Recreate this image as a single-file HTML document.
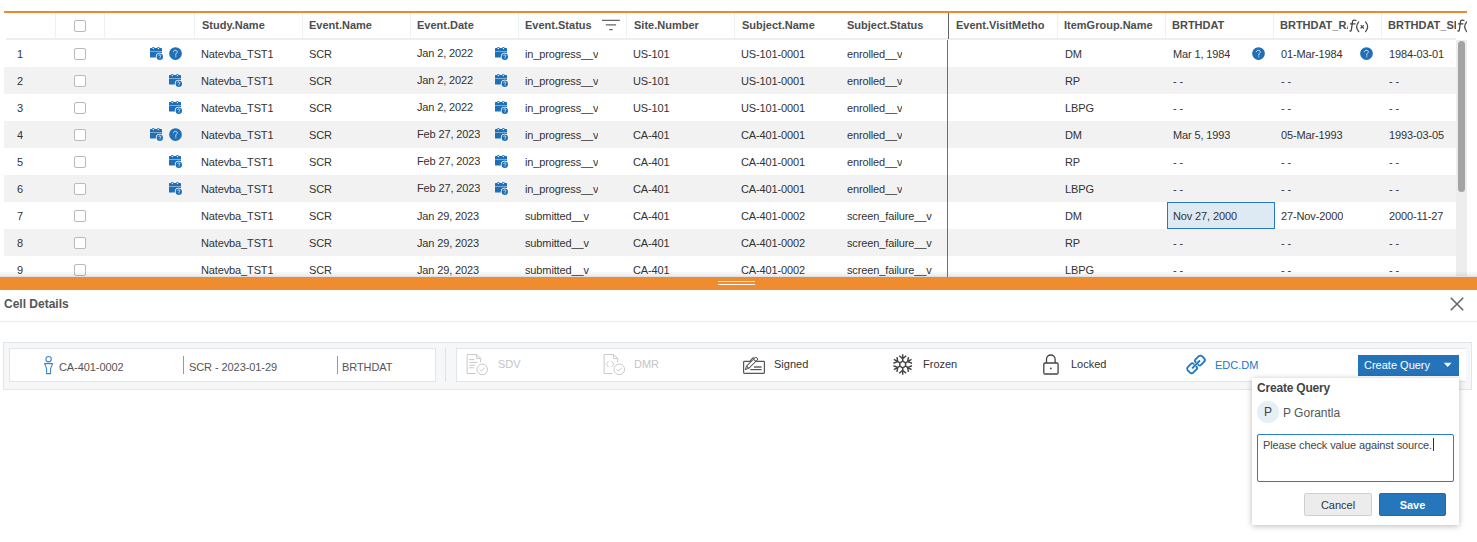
<!DOCTYPE html><html><head><meta charset="utf-8"><style>
*{box-sizing:border-box;margin:0;padding:0}
html,body{width:1477px;height:542px;overflow:hidden;background:#fff;font-family:"Liberation Sans",sans-serif;color:#333;font-size:11px}
.abs{position:absolute}
#grid{position:absolute;left:0;top:0;width:1477px;height:277px;overflow:hidden}
.ol{position:absolute;left:4px;top:11px;width:1463px;height:2px;background:#ef8a2c}
.hdr{position:absolute;top:13px;height:26px;left:0;width:1467px;overflow:hidden}
.hc{position:absolute;top:0;height:26px;line-height:24px;font-weight:bold;color:#4d4d4d;padding-left:7px;white-space:nowrap;overflow:hidden;border-left:1px solid #edf1f4}
.hb{position:absolute;top:38px;height:2px;background:#ebeff2}
.row{position:absolute;left:4px;width:1452px;height:27px}
.row.g{background:#f2f2f2}
.c{position:absolute;top:1px;height:27px;line-height:27px;white-space:nowrap;overflow:hidden;color:#333;letter-spacing:-0.13px}
.cb{position:absolute;width:12px;height:12px;border:1px solid #b9b9b9;border-radius:2px;background:#fff}
.cal,.q{position:absolute}
.fx{position:absolute;font-family:"Liberation Serif",serif;font-weight:normal;color:#444}
.fx i{font-size:15px}
.fx span{font-size:11px}
</style></head><body>
<div id="grid">
<div class="ol"></div>
<div class="hdr">
<div class="hc" style="left:4px;width:51px;border-left:none;"></div>
<div class="hc" style="left:55px;width:49px;"><div class="cb" style="left:18px;top:7px"></div></div>
<div class="hc" style="left:104px;width:90px;"></div>
<div class="hc" style="left:194px;width:108px;">Study.Name</div>
<div class="hc" style="left:302px;width:108px;padding-left:6px;">Event.Name</div>
<div class="hc" style="left:410px;width:108px;padding-left:6px;">Event.Date</div>
<div class="hc" style="left:518px;width:108px;padding-left:6px">Event.Status<svg class="abs" style="left:83px;top:6px" width="20" height="12" viewBox="0 0 20 12"><path d="M0 1.3H17.8M3.8 5.9H14.1M7.2 10.7H10.7" stroke="#666" stroke-width="1.3"/></svg></div>
<div class="hc" style="left:626px;width:108px;">Site.Number</div>
<div class="hc" style="left:734px;width:106px;">Subject.Name</div>
<div class="hc" style="left:840px;width:108px;border-left:none;">Subject.Status</div>
<div class="hc" style="left:948px;width:109px;border-left:1px solid #707070;padding-left:6px;padding-left:7px;">Event.VisitMetho</div>
<div class="hc" style="left:1057px;width:108px;padding-left:6px;">ItemGroup.Name</div>
<div class="hc" style="left:1165px;width:108px;padding-left:6px;">BRTHDAT</div>
<div class="hc" style="left:1273px;width:108px;padding-left:6px"><div style="width:68px;overflow:hidden">BRTHDAT_RAW</div><div class="fx" style="left:75px;top:0;line-height:0"><svg width="22" height="22" viewBox="0 0 22 22"><g fill="none" stroke="#444" stroke-width="1.25" stroke-linecap="round"><path d="M7 7.5C6 6.8 3.9 6.8 3.5 8.4L2.4 16.8C2.2 17.9 1.6 18.2 0.8 18"/><path d="M1.4 10.8H6"/><path d="M9.7 8.9Q5.7 13.8 9.7 18.7"/><path d="M16.6 8.9Q20.6 13.8 16.6 18.7"/><path d="M12 12.6L14.4 15M14.4 12.6L12 15" stroke-width="1.2"/></g></svg></div></div>
<div class="hc" style="left:1381px;width:108px;padding-left:6px"><div style="width:68px;overflow:hidden">BRTHDAT_SI</div><div class="fx" style="left:75px;top:0;line-height:0"><svg width="22" height="22" viewBox="0 0 22 22"><g fill="none" stroke="#444" stroke-width="1.25" stroke-linecap="round"><path d="M7 7.5C6 6.8 3.9 6.8 3.5 8.4L2.4 16.8C2.2 17.9 1.6 18.2 0.8 18"/><path d="M1.4 10.8H6"/><path d="M9.7 8.9Q5.7 13.8 9.7 18.7"/><path d="M16.6 8.9Q20.6 13.8 16.6 18.7"/><path d="M12 12.6L14.4 15M14.4 12.6L12 15" stroke-width="1.2"/></g></svg></div></div>
</div>
<div class="hb" style="left:6px;width:1450px"></div>
<div class="abs" style="left:948px;top:13px;width:1px;height:26px;background:#666"></div>
<div class="row" style="top:40px">
<div class="c" style="left:13px;">1</div>
<div class="cb" style="left:70px;top:8px"></div>
<div class="abs" style="left:146px;top:7px"><svg class="cal" width="14" height="14" viewBox="0 0 14 14"><rect x="0" y="1" width="12" height="9.6" rx="0.6" fill="#1f6fb6"/><rect x="0" y="4.3" width="12" height="0.7" fill="#a9c8e6"/><circle cx="3.3" cy="1.1" r="1.2" fill="#1f6fb6"/><circle cx="8.4" cy="1.1" r="1.2" fill="#1f6fb6"/><circle cx="3.3" cy="1.5" r="0.65" fill="#fff"/><circle cx="8.4" cy="1.5" r="0.65" fill="#fff"/><circle cx="9.8" cy="9.7" r="4" fill="#fff"/><circle cx="9.8" cy="9.7" r="3.2" fill="#1f6fb6"/><path d="M8.7 8.9C8.7 8.2 9.2 7.8 9.8 7.8C10.4 7.8 10.9 8.2 10.9 8.8C10.9 9.5 10 9.6 10 10.4V10.9M10 11.5V12" stroke="#fff" stroke-width="0.7" fill="none"/></svg></div>
<div class="abs" style="left:165px;top:7px"><svg class="q" width="13" height="13" viewBox="0 0 13 13"><circle cx="6.5" cy="6.6" r="6.35" fill="#1f6fb6"/><path d="M4.4 5.2C4.4 3.9 5.3 3.3 6.4 3.3C7.5 3.3 8.3 4 8.3 4.9C8.3 6 6.8 6.3 6.8 7.5V8.7M6.8 9.4V10.4" stroke="#fff" stroke-width="0.8" fill="none"/></svg></div>
<div class="c" style="left:197px;">Natevba_TST1</div>
<div class="c" style="left:305px;">SCR</div>
<div class="c" style="left:413px;top:0px">Jan 2, 2022</div>
<div class="abs" style="left:491px;top:7px"><svg class="cal" width="14" height="14" viewBox="0 0 14 14"><rect x="0" y="1" width="12" height="9.6" rx="0.6" fill="#1f6fb6"/><rect x="0" y="4.3" width="12" height="0.7" fill="#a9c8e6"/><circle cx="3.3" cy="1.1" r="1.2" fill="#1f6fb6"/><circle cx="8.4" cy="1.1" r="1.2" fill="#1f6fb6"/><circle cx="3.3" cy="1.5" r="0.65" fill="#fff"/><circle cx="8.4" cy="1.5" r="0.65" fill="#fff"/><circle cx="9.8" cy="9.7" r="4" fill="#fff"/><circle cx="9.8" cy="9.7" r="3.2" fill="#1f6fb6"/><path d="M8.7 8.9C8.7 8.2 9.2 7.8 9.8 7.8C10.4 7.8 10.9 8.2 10.9 8.8C10.9 9.5 10 9.6 10 10.4V10.9M10 11.5V12" stroke="#fff" stroke-width="0.7" fill="none"/></svg></div>
<div class="c" style="left:521px;">in_progress__v</div>
<div class="c" style="left:629px;">US-101</div>
<div class="c" style="left:737px;">US-101-0001</div>
<div class="c" style="left:843px;">enrolled__v</div>
<div class="c" style="left:1061px;">DM</div>
<div class="c" style="left:1169px;">Mar 1, 1984</div>
<div class="abs" style="left:1248px;top:7px"><svg class="q" width="13" height="13" viewBox="0 0 13 13"><circle cx="6.5" cy="6.6" r="6.35" fill="#1f6fb6"/><path d="M4.4 5.2C4.4 3.9 5.3 3.3 6.4 3.3C7.5 3.3 8.3 4 8.3 4.9C8.3 6 6.8 6.3 6.8 7.5V8.7M6.8 9.4V10.4" stroke="#fff" stroke-width="0.8" fill="none"/></svg></div>
<div class="c" style="left:1277px;">01-Mar-1984</div>
<div class="abs" style="left:1356px;top:7px"><svg class="q" width="13" height="13" viewBox="0 0 13 13"><circle cx="6.5" cy="6.6" r="6.35" fill="#1f6fb6"/><path d="M4.4 5.2C4.4 3.9 5.3 3.3 6.4 3.3C7.5 3.3 8.3 4 8.3 4.9C8.3 6 6.8 6.3 6.8 7.5V8.7M6.8 9.4V10.4" stroke="#fff" stroke-width="0.8" fill="none"/></svg></div>
<div class="c" style="left:1385px;">1984-03-01</div>
</div>
<div class="row g" style="top:67px">
<div class="c" style="left:13px;">2</div>
<div class="cb" style="left:70px;top:8px"></div>
<div class="abs" style="left:165px;top:7px"><svg class="cal" width="14" height="14" viewBox="0 0 14 14"><rect x="0" y="1" width="12" height="9.6" rx="0.6" fill="#1f6fb6"/><rect x="0" y="4.3" width="12" height="0.7" fill="#a9c8e6"/><circle cx="3.3" cy="1.1" r="1.2" fill="#1f6fb6"/><circle cx="8.4" cy="1.1" r="1.2" fill="#1f6fb6"/><circle cx="3.3" cy="1.5" r="0.65" fill="#fff"/><circle cx="8.4" cy="1.5" r="0.65" fill="#fff"/><circle cx="9.8" cy="9.7" r="4" fill="#fff"/><circle cx="9.8" cy="9.7" r="3.2" fill="#1f6fb6"/><path d="M8.7 8.9C8.7 8.2 9.2 7.8 9.8 7.8C10.4 7.8 10.9 8.2 10.9 8.8C10.9 9.5 10 9.6 10 10.4V10.9M10 11.5V12" stroke="#fff" stroke-width="0.7" fill="none"/></svg></div>
<div class="c" style="left:197px;">Natevba_TST1</div>
<div class="c" style="left:305px;">SCR</div>
<div class="c" style="left:413px;top:0px">Jan 2, 2022</div>
<div class="abs" style="left:491px;top:7px"><svg class="cal" width="14" height="14" viewBox="0 0 14 14"><rect x="0" y="1" width="12" height="9.6" rx="0.6" fill="#1f6fb6"/><rect x="0" y="4.3" width="12" height="0.7" fill="#a9c8e6"/><circle cx="3.3" cy="1.1" r="1.2" fill="#1f6fb6"/><circle cx="8.4" cy="1.1" r="1.2" fill="#1f6fb6"/><circle cx="3.3" cy="1.5" r="0.65" fill="#fff"/><circle cx="8.4" cy="1.5" r="0.65" fill="#fff"/><circle cx="9.8" cy="9.7" r="4" fill="#fff"/><circle cx="9.8" cy="9.7" r="3.2" fill="#1f6fb6"/><path d="M8.7 8.9C8.7 8.2 9.2 7.8 9.8 7.8C10.4 7.8 10.9 8.2 10.9 8.8C10.9 9.5 10 9.6 10 10.4V10.9M10 11.5V12" stroke="#fff" stroke-width="0.7" fill="none"/></svg></div>
<div class="c" style="left:521px;">in_progress__v</div>
<div class="c" style="left:629px;">US-101</div>
<div class="c" style="left:737px;">US-101-0001</div>
<div class="c" style="left:843px;">enrolled__v</div>
<div class="c" style="left:1061px;">RP</div>
<div class="c" style="left:1169px;">- -</div>
<div class="c" style="left:1277px;">- -</div>
<div class="c" style="left:1385px;">- -</div>
</div>
<div class="row" style="top:94px">
<div class="c" style="left:13px;">3</div>
<div class="cb" style="left:70px;top:8px"></div>
<div class="abs" style="left:165px;top:7px"><svg class="cal" width="14" height="14" viewBox="0 0 14 14"><rect x="0" y="1" width="12" height="9.6" rx="0.6" fill="#1f6fb6"/><rect x="0" y="4.3" width="12" height="0.7" fill="#a9c8e6"/><circle cx="3.3" cy="1.1" r="1.2" fill="#1f6fb6"/><circle cx="8.4" cy="1.1" r="1.2" fill="#1f6fb6"/><circle cx="3.3" cy="1.5" r="0.65" fill="#fff"/><circle cx="8.4" cy="1.5" r="0.65" fill="#fff"/><circle cx="9.8" cy="9.7" r="4" fill="#fff"/><circle cx="9.8" cy="9.7" r="3.2" fill="#1f6fb6"/><path d="M8.7 8.9C8.7 8.2 9.2 7.8 9.8 7.8C10.4 7.8 10.9 8.2 10.9 8.8C10.9 9.5 10 9.6 10 10.4V10.9M10 11.5V12" stroke="#fff" stroke-width="0.7" fill="none"/></svg></div>
<div class="c" style="left:197px;">Natevba_TST1</div>
<div class="c" style="left:305px;">SCR</div>
<div class="c" style="left:413px;top:0px">Jan 2, 2022</div>
<div class="abs" style="left:491px;top:7px"><svg class="cal" width="14" height="14" viewBox="0 0 14 14"><rect x="0" y="1" width="12" height="9.6" rx="0.6" fill="#1f6fb6"/><rect x="0" y="4.3" width="12" height="0.7" fill="#a9c8e6"/><circle cx="3.3" cy="1.1" r="1.2" fill="#1f6fb6"/><circle cx="8.4" cy="1.1" r="1.2" fill="#1f6fb6"/><circle cx="3.3" cy="1.5" r="0.65" fill="#fff"/><circle cx="8.4" cy="1.5" r="0.65" fill="#fff"/><circle cx="9.8" cy="9.7" r="4" fill="#fff"/><circle cx="9.8" cy="9.7" r="3.2" fill="#1f6fb6"/><path d="M8.7 8.9C8.7 8.2 9.2 7.8 9.8 7.8C10.4 7.8 10.9 8.2 10.9 8.8C10.9 9.5 10 9.6 10 10.4V10.9M10 11.5V12" stroke="#fff" stroke-width="0.7" fill="none"/></svg></div>
<div class="c" style="left:521px;">in_progress__v</div>
<div class="c" style="left:629px;">US-101</div>
<div class="c" style="left:737px;">US-101-0001</div>
<div class="c" style="left:843px;">enrolled__v</div>
<div class="c" style="left:1061px;">LBPG</div>
<div class="c" style="left:1169px;">- -</div>
<div class="c" style="left:1277px;">- -</div>
<div class="c" style="left:1385px;">- -</div>
</div>
<div class="row g" style="top:121px">
<div class="c" style="left:13px;">4</div>
<div class="cb" style="left:70px;top:8px"></div>
<div class="abs" style="left:146px;top:7px"><svg class="cal" width="14" height="14" viewBox="0 0 14 14"><rect x="0" y="1" width="12" height="9.6" rx="0.6" fill="#1f6fb6"/><rect x="0" y="4.3" width="12" height="0.7" fill="#a9c8e6"/><circle cx="3.3" cy="1.1" r="1.2" fill="#1f6fb6"/><circle cx="8.4" cy="1.1" r="1.2" fill="#1f6fb6"/><circle cx="3.3" cy="1.5" r="0.65" fill="#fff"/><circle cx="8.4" cy="1.5" r="0.65" fill="#fff"/><circle cx="9.8" cy="9.7" r="4" fill="#fff"/><circle cx="9.8" cy="9.7" r="3.2" fill="#1f6fb6"/><path d="M8.7 8.9C8.7 8.2 9.2 7.8 9.8 7.8C10.4 7.8 10.9 8.2 10.9 8.8C10.9 9.5 10 9.6 10 10.4V10.9M10 11.5V12" stroke="#fff" stroke-width="0.7" fill="none"/></svg></div>
<div class="abs" style="left:165px;top:7px"><svg class="q" width="13" height="13" viewBox="0 0 13 13"><circle cx="6.5" cy="6.6" r="6.35" fill="#1f6fb6"/><path d="M4.4 5.2C4.4 3.9 5.3 3.3 6.4 3.3C7.5 3.3 8.3 4 8.3 4.9C8.3 6 6.8 6.3 6.8 7.5V8.7M6.8 9.4V10.4" stroke="#fff" stroke-width="0.8" fill="none"/></svg></div>
<div class="c" style="left:197px;">Natevba_TST1</div>
<div class="c" style="left:305px;">SCR</div>
<div class="c" style="left:413px;top:0px">Feb 27, 2023</div>
<div class="abs" style="left:491px;top:7px"><svg class="cal" width="14" height="14" viewBox="0 0 14 14"><rect x="0" y="1" width="12" height="9.6" rx="0.6" fill="#1f6fb6"/><rect x="0" y="4.3" width="12" height="0.7" fill="#a9c8e6"/><circle cx="3.3" cy="1.1" r="1.2" fill="#1f6fb6"/><circle cx="8.4" cy="1.1" r="1.2" fill="#1f6fb6"/><circle cx="3.3" cy="1.5" r="0.65" fill="#fff"/><circle cx="8.4" cy="1.5" r="0.65" fill="#fff"/><circle cx="9.8" cy="9.7" r="4" fill="#fff"/><circle cx="9.8" cy="9.7" r="3.2" fill="#1f6fb6"/><path d="M8.7 8.9C8.7 8.2 9.2 7.8 9.8 7.8C10.4 7.8 10.9 8.2 10.9 8.8C10.9 9.5 10 9.6 10 10.4V10.9M10 11.5V12" stroke="#fff" stroke-width="0.7" fill="none"/></svg></div>
<div class="c" style="left:521px;">in_progress__v</div>
<div class="c" style="left:629px;">CA-401</div>
<div class="c" style="left:737px;">CA-401-0001</div>
<div class="c" style="left:843px;">enrolled__v</div>
<div class="c" style="left:1061px;">DM</div>
<div class="c" style="left:1169px;">Mar 5, 1993</div>
<div class="c" style="left:1277px;">05-Mar-1993</div>
<div class="c" style="left:1385px;">1993-03-05</div>
</div>
<div class="row" style="top:148px">
<div class="c" style="left:13px;">5</div>
<div class="cb" style="left:70px;top:8px"></div>
<div class="abs" style="left:165px;top:7px"><svg class="cal" width="14" height="14" viewBox="0 0 14 14"><rect x="0" y="1" width="12" height="9.6" rx="0.6" fill="#1f6fb6"/><rect x="0" y="4.3" width="12" height="0.7" fill="#a9c8e6"/><circle cx="3.3" cy="1.1" r="1.2" fill="#1f6fb6"/><circle cx="8.4" cy="1.1" r="1.2" fill="#1f6fb6"/><circle cx="3.3" cy="1.5" r="0.65" fill="#fff"/><circle cx="8.4" cy="1.5" r="0.65" fill="#fff"/><circle cx="9.8" cy="9.7" r="4" fill="#fff"/><circle cx="9.8" cy="9.7" r="3.2" fill="#1f6fb6"/><path d="M8.7 8.9C8.7 8.2 9.2 7.8 9.8 7.8C10.4 7.8 10.9 8.2 10.9 8.8C10.9 9.5 10 9.6 10 10.4V10.9M10 11.5V12" stroke="#fff" stroke-width="0.7" fill="none"/></svg></div>
<div class="c" style="left:197px;">Natevba_TST1</div>
<div class="c" style="left:305px;">SCR</div>
<div class="c" style="left:413px;top:0px">Feb 27, 2023</div>
<div class="abs" style="left:491px;top:7px"><svg class="cal" width="14" height="14" viewBox="0 0 14 14"><rect x="0" y="1" width="12" height="9.6" rx="0.6" fill="#1f6fb6"/><rect x="0" y="4.3" width="12" height="0.7" fill="#a9c8e6"/><circle cx="3.3" cy="1.1" r="1.2" fill="#1f6fb6"/><circle cx="8.4" cy="1.1" r="1.2" fill="#1f6fb6"/><circle cx="3.3" cy="1.5" r="0.65" fill="#fff"/><circle cx="8.4" cy="1.5" r="0.65" fill="#fff"/><circle cx="9.8" cy="9.7" r="4" fill="#fff"/><circle cx="9.8" cy="9.7" r="3.2" fill="#1f6fb6"/><path d="M8.7 8.9C8.7 8.2 9.2 7.8 9.8 7.8C10.4 7.8 10.9 8.2 10.9 8.8C10.9 9.5 10 9.6 10 10.4V10.9M10 11.5V12" stroke="#fff" stroke-width="0.7" fill="none"/></svg></div>
<div class="c" style="left:521px;">in_progress__v</div>
<div class="c" style="left:629px;">CA-401</div>
<div class="c" style="left:737px;">CA-401-0001</div>
<div class="c" style="left:843px;">enrolled__v</div>
<div class="c" style="left:1061px;">RP</div>
<div class="c" style="left:1169px;">- -</div>
<div class="c" style="left:1277px;">- -</div>
<div class="c" style="left:1385px;">- -</div>
</div>
<div class="row g" style="top:175px">
<div class="c" style="left:13px;">6</div>
<div class="cb" style="left:70px;top:8px"></div>
<div class="abs" style="left:165px;top:7px"><svg class="cal" width="14" height="14" viewBox="0 0 14 14"><rect x="0" y="1" width="12" height="9.6" rx="0.6" fill="#1f6fb6"/><rect x="0" y="4.3" width="12" height="0.7" fill="#a9c8e6"/><circle cx="3.3" cy="1.1" r="1.2" fill="#1f6fb6"/><circle cx="8.4" cy="1.1" r="1.2" fill="#1f6fb6"/><circle cx="3.3" cy="1.5" r="0.65" fill="#fff"/><circle cx="8.4" cy="1.5" r="0.65" fill="#fff"/><circle cx="9.8" cy="9.7" r="4" fill="#fff"/><circle cx="9.8" cy="9.7" r="3.2" fill="#1f6fb6"/><path d="M8.7 8.9C8.7 8.2 9.2 7.8 9.8 7.8C10.4 7.8 10.9 8.2 10.9 8.8C10.9 9.5 10 9.6 10 10.4V10.9M10 11.5V12" stroke="#fff" stroke-width="0.7" fill="none"/></svg></div>
<div class="c" style="left:197px;">Natevba_TST1</div>
<div class="c" style="left:305px;">SCR</div>
<div class="c" style="left:413px;top:0px">Feb 27, 2023</div>
<div class="abs" style="left:491px;top:7px"><svg class="cal" width="14" height="14" viewBox="0 0 14 14"><rect x="0" y="1" width="12" height="9.6" rx="0.6" fill="#1f6fb6"/><rect x="0" y="4.3" width="12" height="0.7" fill="#a9c8e6"/><circle cx="3.3" cy="1.1" r="1.2" fill="#1f6fb6"/><circle cx="8.4" cy="1.1" r="1.2" fill="#1f6fb6"/><circle cx="3.3" cy="1.5" r="0.65" fill="#fff"/><circle cx="8.4" cy="1.5" r="0.65" fill="#fff"/><circle cx="9.8" cy="9.7" r="4" fill="#fff"/><circle cx="9.8" cy="9.7" r="3.2" fill="#1f6fb6"/><path d="M8.7 8.9C8.7 8.2 9.2 7.8 9.8 7.8C10.4 7.8 10.9 8.2 10.9 8.8C10.9 9.5 10 9.6 10 10.4V10.9M10 11.5V12" stroke="#fff" stroke-width="0.7" fill="none"/></svg></div>
<div class="c" style="left:521px;">in_progress__v</div>
<div class="c" style="left:629px;">CA-401</div>
<div class="c" style="left:737px;">CA-401-0001</div>
<div class="c" style="left:843px;">enrolled__v</div>
<div class="c" style="left:1061px;">LBPG</div>
<div class="c" style="left:1169px;">- -</div>
<div class="c" style="left:1277px;">- -</div>
<div class="c" style="left:1385px;">- -</div>
</div>
<div class="row" style="top:202px">
<div class="c" style="left:13px;">7</div>
<div class="cb" style="left:70px;top:8px"></div>
<div class="c" style="left:197px;">Natevba_TST1</div>
<div class="c" style="left:305px;">SCR</div>
<div class="c" style="left:413px;">Jan 29, 2023</div>
<div class="c" style="left:521px;">submitted__v</div>
<div class="c" style="left:629px;">CA-401</div>
<div class="c" style="left:737px;">CA-401-0002</div>
<div class="c" style="left:843px;">screen_failure__v</div>
<div class="c" style="left:1061px;">DM</div>
<div class="abs" style="left:1163px;top:0;width:108px;height:27px;border:1px solid #2a78c0;background:#dde9f3"></div>
<div class="c" style="left:1169px;">Nov 27, 2000</div>
<div class="c" style="left:1277px;">27-Nov-2000</div>
<div class="c" style="left:1385px;">2000-11-27</div>
</div>
<div class="row g" style="top:229px">
<div class="c" style="left:13px;">8</div>
<div class="cb" style="left:70px;top:8px"></div>
<div class="c" style="left:197px;">Natevba_TST1</div>
<div class="c" style="left:305px;">SCR</div>
<div class="c" style="left:413px;">Jan 29, 2023</div>
<div class="c" style="left:521px;">submitted__v</div>
<div class="c" style="left:629px;">CA-401</div>
<div class="c" style="left:737px;">CA-401-0002</div>
<div class="c" style="left:843px;">screen_failure__v</div>
<div class="c" style="left:1061px;">RP</div>
<div class="c" style="left:1169px;">- -</div>
<div class="c" style="left:1277px;">- -</div>
<div class="c" style="left:1385px;">- -</div>
</div>
<div class="row" style="top:256px">
<div class="c" style="left:13px;">9</div>
<div class="cb" style="left:70px;top:8px"></div>
<div class="c" style="left:197px;">Natevba_TST1</div>
<div class="c" style="left:305px;">SCR</div>
<div class="c" style="left:413px;">Jan 29, 2023</div>
<div class="c" style="left:521px;">submitted__v</div>
<div class="c" style="left:629px;">CA-401</div>
<div class="c" style="left:737px;">CA-401-0002</div>
<div class="c" style="left:843px;">screen_failure__v</div>
<div class="c" style="left:1061px;">LBPG</div>
<div class="c" style="left:1169px;">- -</div>
<div class="c" style="left:1277px;">- -</div>
<div class="c" style="left:1385px;">- -</div>
</div>
<div class="abs" style="left:1456px;top:40px;width:11px;height:236px;background:#ededed"></div>
<div class="abs" style="left:1458px;top:41px;width:7px;height:151px;border-radius:4px;background:#a3a3a3"></div>
<div class="abs" style="left:0;top:271px;width:1477px;height:5px;background:linear-gradient(rgba(0,0,0,0),rgba(0,0,0,0.08))"></div>
<div class="abs" style="left:0;top:276px;width:1477px;height:1px;background:#dde3e8"></div>
<div class="abs" style="left:947px;top:40px;width:1px;height:237px;background:#6e6e6e"></div>
</div>
<div class="abs" style="left:0;top:277px;width:1477px;height:13px;background:#f08c30"></div>
<div class="abs" style="left:718px;top:281px;width:37px;height:1px;background:#fbe0c6"></div>
<div class="abs" style="left:718px;top:284px;width:37px;height:1px;background:#fff"></div>
<div class="abs" style="left:4px;top:297px;font-size:12px;font-weight:bold;color:#555;line-height:14px">Cell Details</div>
<svg class="abs" style="left:1449px;top:296px" width="16" height="16" viewBox="0 0 16 16"><path d="M1.8 1.8L14.2 14.2M14.2 1.8L1.8 14.2" stroke="#666" stroke-width="1.6"/></svg>
<div class="abs" style="left:0;top:321px;width:1477px;height:1px;background:#ececec"></div>
<div class="abs" style="left:3px;top:342px;width:1469px;height:48px;background:#f6f7f9;border:1px solid #e3e6e9"></div>
<div class="abs" style="left:9px;top:348px;width:427px;height:34px;background:#fff;border:1px solid #e3e6e9"></div>
<div class="abs" style="left:445px;top:348px;width:1px;height:34px;background:#dfe2e5"></div>
<div class="abs" style="left:456px;top:348px;width:1010px;height:34px;background:#fff;border:1px solid #e3e6e9;border-right:none"></div>
<svg class="abs" style="left:43px;top:355px" width="12" height="20" viewBox="43 355 12 20"><circle cx="48.6" cy="359.2" r="2.7" fill="none" stroke="#3a86c8" stroke-width="1.1"/><path d="M44.6 363.6H52.6L50.6 368.6V373.6H46.6V368.6Z" fill="none" stroke="#3a86c8" stroke-width="1.1" stroke-linejoin="round"/></svg>
<div class="abs" style="left:59px;top:360px;line-height:14px;color:#555;letter-spacing:-0.08px">CA-401-0002</div>
<div class="abs" style="left:183px;top:356px;width:1px;height:18px;background:#999"></div>
<div class="abs" style="left:189px;top:360px;line-height:14px;color:#555;letter-spacing:-0.08px">SCR - 2023-01-29</div>
<div class="abs" style="left:337px;top:356px;width:1px;height:18px;background:#999"></div>
<div class="abs" style="left:342px;top:360px;line-height:14px;color:#555;letter-spacing:-0.08px">BRTHDAT</div>
<svg class="abs" style="left:466px;top:353px" width="24" height="24" viewBox="0 0 24 24"><g fill="none" stroke="#c9c9c9" stroke-width="1"><path d="M9.5 20.5H1.1V1.5H10.8L14.6 5.3V9.4"/><path d="M10.6 1.7V5.4H14.4"/><path d="M2.9 6.6H8.3M3.4 9.4H11.3M3.4 12.2H9.3M2.9 14.8H8.3"/><circle cx="16.3" cy="16.4" r="5.3"/><path d="M13.8 16.6L15.2 18.1L18.7 14.9"/></g></svg>
<div class="abs" style="left:498px;top:357px;line-height:14px;color:#c4c4c4">SDV</div>
<svg class="abs" style="left:603px;top:353px" width="24" height="24" viewBox="0 0 24 24"><g fill="none" stroke="#c9c9c9" stroke-width="1"><path d="M9.5 20.5H1.1V1.5H10.8L14.6 5.3V9.4"/><path d="M10.6 1.7V5.4H14.4"/><path d="M5.5 8.4L3.2 11.3L5.5 14.1M8.6 8.4L10.9 11.3L8.6 14.1"/><circle cx="16.3" cy="16.4" r="5.3"/><path d="M13.8 16.6L15.2 18.1L18.7 14.9"/></g></svg>
<div class="abs" style="left:634px;top:357px;line-height:14px;color:#c4c4c4">DMR</div>
<svg class="abs" style="left:742px;top:354px" width="24" height="21" viewBox="742 354 24 21"><g fill="none" stroke="#555" stroke-width="1.2"><rect x="743.6" y="361.4" width="20.8" height="12" rx="0.8"/><path d="M750.3 369.6H761.6" /><path d="M753.9 367H761.6" stroke-width="1.4"/></g><g transform="translate(745.4 369.5) rotate(-45)" fill="#fff" stroke="#555" stroke-width="1" stroke-linejoin="round"><path d="M0 0L3.2 -1.6H15.4Q16.2 -1.6 16.2 -0.8V0.8Q16.2 1.6 15.4 1.6H3.2Z"/><path d="M3.2 -1.6V1.6M13 -1.6V1.6" fill="none"/><path d="M10 -1.6V-2.9H13.8V-1.6" fill="none"/></g></svg>
<div class="abs" style="left:774px;top:357px;line-height:14px;color:#333">Signed</div>
<svg class="abs" style="left:890px;top:352px" width="26" height="26" viewBox="890 352 26 26"><g fill="none" stroke="#444" stroke-width="1.5" stroke-linecap="butt"><path d="M902.70 361.30L902.70 354.30M902.70 358.80L906.20 355.80M902.70 358.80L899.20 355.80M899.93 362.90L893.87 359.40M897.76 361.65L896.92 357.12M897.76 361.65L893.42 363.18M899.93 366.10L893.87 369.60M897.76 367.35L893.42 365.82M897.76 367.35L896.92 371.88M902.70 367.70L902.70 374.70M902.70 370.20L899.20 373.20M902.70 370.20L906.20 373.20M905.47 366.10L911.53 369.60M907.64 367.35L908.48 371.88M907.64 367.35L911.98 365.82M905.47 362.90L911.53 359.40M907.64 361.65L911.98 363.18M907.64 361.65L908.48 357.12"/><path d="M902.70 361.20L899.84 362.85L899.84 366.15L902.70 367.80L905.56 366.15L905.56 362.85Z"/></g></svg>
<div class="abs" style="left:923px;top:357px;line-height:14px;color:#333">Frozen</div>
<svg class="abs" style="left:1040px;top:352px" width="22" height="25" viewBox="1040 352 22 25"><g fill="none" stroke="#444" stroke-width="1.3"><rect x="1043.8" y="363" width="14.3" height="11" rx="1.3"/><path d="M1046.5 363V359.3A4.3 4.3 0 0 1 1055.1 359.3V363"/></g><circle cx="1050.8" cy="368.4" r="0.9" fill="#444"/></svg>
<div class="abs" style="left:1071px;top:357px;line-height:14px;color:#333">Locked</div>
<svg class="abs" style="left:1183px;top:351px" width="26" height="27" viewBox="1183 351 26 27"><g transform="translate(1196 364.4) rotate(-45) scale(1.05)" fill="none" stroke="#2179c3" stroke-width="1.8" stroke-linecap="round" stroke-linejoin="round"><path d="M1.3 -1.9V-2.3Q1.3 -3.7 2.7 -3.7H7.1A2.5 2.5 0 0 1 9.6 -1.2V1.2A2.5 2.5 0 0 1 7.1 3.7H2.7Q1.3 3.7 1.3 2.3V1.9"/><path d="M1.3 -1.9V-2.3Q1.3 -3.7 2.7 -3.7H7.1A2.5 2.5 0 0 1 9.6 -1.2V1.2A2.5 2.5 0 0 1 7.1 3.7H2.7Q1.3 3.7 1.3 2.3V1.9" transform="scale(-1 1)"/><path d="M-4.6 0H4.6"/></g></svg>
<div class="abs" style="left:1215px;top:358px;line-height:14px;color:#2179c3">EDC.DM</div>
<div class="abs" style="left:1358px;top:355px;width:101px;height:21px;background:#2574ba"></div>
<div class="abs" style="left:1364px;top:358px;line-height:14px;color:#fff">Create Query</div>
<svg class="abs" style="left:1443px;top:362px" width="10" height="6" viewBox="0 0 10 6"><path d="M0.8 0.8H8.6L4.7 5Z" fill="#fff"/></svg>
<div class="abs" style="left:1252px;top:378px;width:207px;height:147px;background:#fff;box-shadow:0 1px 6px rgba(0,0,0,0.28)"></div>
<div class="abs" style="left:1257px;top:381px;font-size:12px;font-weight:bold;color:#444;line-height:14px;letter-spacing:-0.2px">Create Query</div>
<div class="abs" style="left:1257px;top:401px;width:22px;height:22px;border-radius:50%;background:#e6eef6;text-align:center;line-height:22px;font-size:12px;color:#444">P</div>
<div class="abs" style="left:1283px;top:406px;font-size:12px;color:#555;line-height:14px">P Gorantla</div>
<div class="abs" style="left:1257px;top:434px;width:197px;height:48px;border:1px solid #2a7cc4;border-radius:2px;background:#fff"></div>
<div class="abs" style="left:1263px;top:438px;line-height:14px;color:#444;letter-spacing:-0.1px">Please check value against source.<span style="display:inline-block;width:1px;height:13px;background:#333;vertical-align:-2px;margin-left:1px"></span></div>
<div class="abs" style="left:1304px;top:493px;width:68px;height:23px;background:#ececec;border:1px solid #cfcfcf;border-radius:2px;text-align:center;line-height:23px;color:#333">Cancel</div>
<div class="abs" style="left:1379px;top:493px;width:67px;height:23px;background:#2676bc;border:1px solid #1f69ad;border-radius:2px;text-align:center;line-height:23px;color:#fff;font-weight:bold">Save</div>
</body></html>
